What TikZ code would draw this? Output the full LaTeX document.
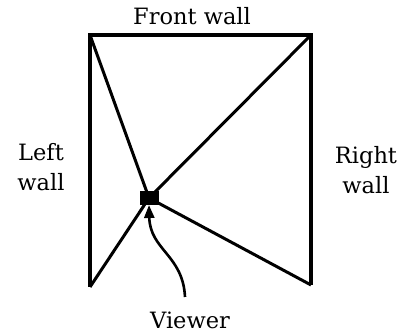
\documentclass[tikz,border=0pt]{standalone}
\usepackage{fontspec}
\setmainfont{DejaVu Serif}
\usetikzlibrary{positioning,calc}
\usetikzlibrary{arrows.meta}
\tikzset{
  wall/.style={draw=black,line width=3.2pt},
  sight/.style={draw=black,line width=3pt},
  eye/.style={rectangle,fill=black,minimum width=19pt,minimum height=14pt,inner sep=0pt},
  lbl/.style={font=\fontsize{22.5}{30}\selectfont,align=center},
}
\tikzset{path/.style={draw=black,line width=2.6pt,-{Triangle[length=13pt,width=10pt]}}}

\begin{document}
\begin{tikzpicture}[x=1pt,y=-1pt]
\useasboundingbox (0,0) rectangle (402,336);
\coordinate (tl) at (90,35);
\coordinate (tr) at (311,35);
\coordinate (bl) at (90,287);
\coordinate (br) at (311,285);
\node[eye] (view) at (149,198) {};
\draw[wall] (bl)--(tl)--(tr)--(br);
\draw[sight] (tl)--(view.center);
\draw[sight] (tr)--(view.center);
\draw[sight] (bl)--(view.center);
\draw[sight] (br)--(view.center);
\coordinate (start) at (185,297);
\draw[path] (start) .. controls (183,255) and (150,250) .. (149,205);
\node[lbl] (front) at (192,16) {Front wall};
\node[lbl] (left) at (41,167) {Left\\wall};
\node[lbl] (right) at (366,170) {Right\\wall};
\node[lbl] (viewer) at (190,320) {Viewer};
\end{tikzpicture}
\end{document}
